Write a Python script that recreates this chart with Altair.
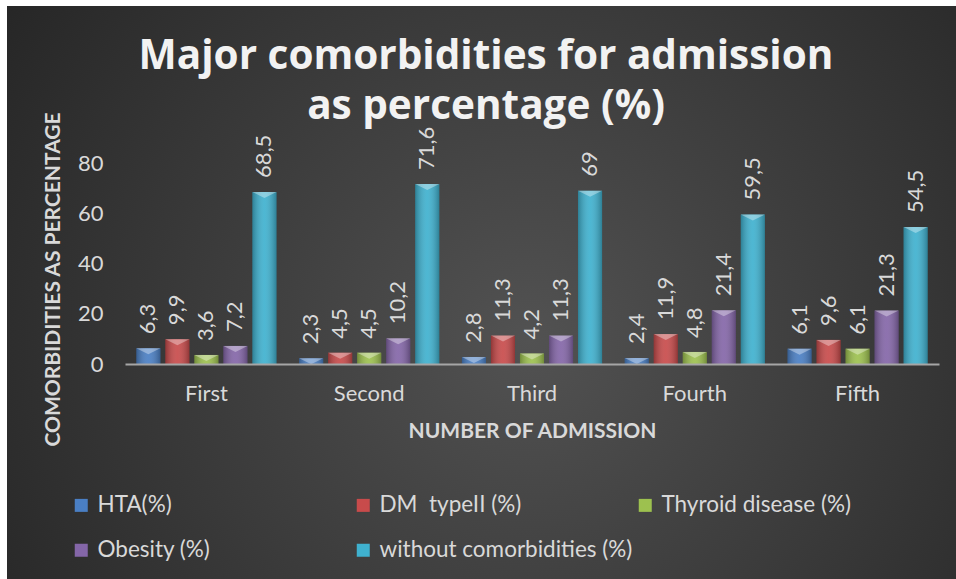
import altair as alt
import pandas as pd

categories = ["First", "Second", "Third", "Fourth", "Fifth"]
series = ["HTA(%)", "DM\u00a0 typeII (%)", "Thyroid disease (%)", "Obesity (%)", "without comorbidities (%)"]
hta = [6.3, 2.3, 2.8, 2.4, 6.1]
dm_type2 = [9.9, 4.5, 11.3, 11.9, 9.6]
thyroid = [3.6, 4.5, 4.2, 4.8, 6.1]
obesity = [7.2, 10.2, 11.3, 21.4, 21.3]
without = [68.5, 71.6, 69, 59.5, 54.5]
colors = ["#4a7fc4", "#c84b4b", "#9dc14f", "#8466a8", "#3fb1cf"]

rows = []
for s, vals in zip(series, [hta, dm_type2, thyroid, obesity, without]):
    for c, v in zip(categories, vals):
        rows.append({"admission": c, "series": s, "value": v})
df = pd.DataFrame(rows)

FONT = "Lato"
TXT = "#d9d9d9"

x_enc = alt.X("admission:N", sort=categories,
              scale=alt.Scale(paddingInner=0, paddingOuter=0),
              axis=alt.Axis(title="NUMBER OF ADMISSION", labelAngle=0, ticks=False, tickSize=0,
                            labelPadding=19, labelFontSize=22, labelColor=TXT, labelFont=FONT,
                            domainColor="#a6a6a6", domainWidth=2, zindex=1,
                            titleFont=FONT, titleFontSize=21, titleFontWeight="bold",
                            titleColor=TXT, titleY=56, titleBaseline="top"))
xo_enc = alt.XOffset("series:N", sort=series,
                     scale=alt.Scale(paddingInner=0.17, paddingOuter=0.39))
y_enc = alt.Y("value:Q", scale=alt.Scale(domain=[0, 80], nice=False),
              axis=alt.Axis(title="COMORBIDITIES AS PERCENTAGE", values=[0, 20, 40, 60, 80],
                            grid=False, domain=False, ticks=False, tickSize=0, zindex=1,
                            labelPadding=22, labelFontSize=22, labelColor=TXT, labelFont=FONT,
                            titleFont=FONT, titleFontSize=21, titleFontWeight="bold",
                            titleColor=TXT, titleAngle=270, titleX=-62, titleY=116))

bg = alt.Chart(pd.DataFrame({"a": [0]})).mark_rect(
    fill=alt.RadialGradient(gradient="radial", x1=0.55, y1=0.55, x2=0.55, y2=0.55, r1=0, r2=0.72,
                            stops=[alt.GradientStop(offset=0, color="#525252"),
                                   alt.GradientStop(offset=1, color="#222222")])
).encode(x=alt.value(-118), x2=alt.value(831), y=alt.value(-157), y2=alt.value(416))

base = alt.Chart(df)

bars = base.mark_bar().encode(
    x=x_enc, xOffset=xo_enc, y=y_enc,
    color=alt.Color("series:N", sort=series,
                    scale=alt.Scale(domain=series, range=colors),
                    legend=alt.Legend(title=None, orient="none", legendX=-55, legendY=331,
                                      direction="horizontal",
                                      columns=3, gridAlign="all", columnPadding=1, rowPadding=22,
                                      symbolType="square", symbolSize=169, symbolStrokeWidth=0,
                                      labelFont=FONT, labelFontSize=22.5, labelColor=TXT,
                                      labelOffset=5, padding=0, labelLimit=400))
)

shade = base.mark_bar(
    fill=alt.LinearGradient(gradient="linear", x1=0, x2=1, y1=0, y2=0,
                            stops=[alt.GradientStop(offset=0, color="rgba(0,0,0,0.28)"),
                                   alt.GradientStop(offset=0.5, color="rgba(255,255,255,0.08)"),
                                   alt.GradientStop(offset=1, color="rgba(0,0,0,0.28)")])
).encode(x=x_enc, xOffset=xo_enc, y=y_enc)

bevel = base.mark_point(
    shape="M-1,0L1,0L0,0.5Z", filled=True, size=576, color="white", opacity=0.35
).encode(x=x_enc, xOffset=xo_enc, y=y_enc)

labels = base.transform_calculate(
    lbl="replace(toString(datum.value), '.', ',')"
).mark_text(angle=270, align="left", baseline="middle", dx=14,
            font=FONT, fontSize=22, color=TXT).encode(
    x=x_enc, xOffset=xo_enc, y=y_enc, text="lbl:N")

chart = alt.layer(bg, bars, shade, bevel, labels).properties(
    width=814, height=201,
    title=alt.TitleParams(["Major comorbidities for admission", "as percentage (%)"],
                          font="Open Sans", fontSize=40.5, fontWeight="bold", color="#f2f2f2",
                          anchor="middle", dx=-46, offset=-121, lineHeight=50),
    autosize=alt.AutoSizeParams(type="none"),
    padding={"left": 125, "top": 163, "right": 17, "bottom": 215},
    background="white",
).configure_view(stroke=None)

chart.save("out.html", embed_options={"renderer": "svg", "actions": False})
